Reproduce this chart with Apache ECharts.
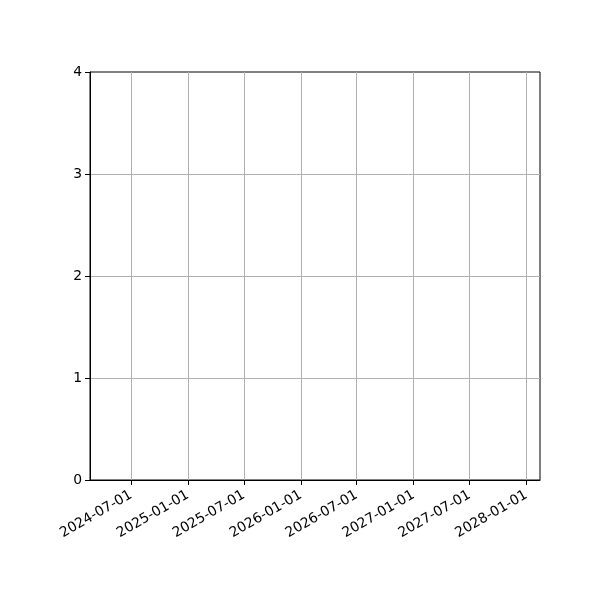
<!DOCTYPE html>
<html>
<head>
<meta charset="utf-8">
<title>chart</title>
<script src="https://cdn.jsdelivr.net/npm/echarts@6/dist/echarts.min.js"></script>
<style>
  html, body { margin: 0; padding: 0; background: #fff; }
  #chart { width: 600px; height: 600px; }
</style>
</head>
<body>
<div id="chart"></div>
<script>
// x axis range and tick dates (the plot itself has no data)
const xRange = ['2024-02-19', '2028-02-14'];
const tickDates = ['2024-07-01', '2025-01-01', '2025-07-01', '2026-01-01',
                   '2026-07-01', '2027-01-01', '2027-07-01', '2028-01-01'];
const yTicks = [0, 1, 2, 3, 4];
const seriesData = [];

const chart = echarts.init(document.getElementById('chart'), null, { renderer: 'canvas' });

// dates as UTC timestamps on a plain value axis
const toTime = s => Date.parse(s + 'T00:00:00Z');
const pad = n => (n < 10 ? '0' : '') + n;
const fmtDate = v => {
    const d = new Date(v);
    return d.getUTCFullYear() + '-' + pad(d.getUTCMonth() + 1) + '-' + pad(d.getUTCDate());
};

chart.setOption({
    animation: false,
    backgroundColor: '#ffffff',
    textStyle: { fontFamily: 'DejaVu Sans' },
    grid: { left: 90, right: 60, top: 72, bottom: 120, show: true, borderColor: '#000', borderWidth: 1 },
    xAxis: {
        type: 'value',
        min: toTime(xRange[0]),
        max: toTime(xRange[1]),
        axisLine: { show: true, onZero: false, lineStyle: { color: '#000', width: 1 } },
        axisTick: {
            show: true, length: 5, inside: false,
            lineStyle: { color: '#000' },
            customValues: tickDates.map(toTime)
        },
        axisLabel: {
            customValues: tickDates.map(toTime),
            rotate: 30,
            margin: 14,
            color: '#000',
            fontSize: 13.9,
            fontFamily: 'DejaVu Sans',
            formatter: fmtDate
        },
        splitLine: { show: true, lineStyle: { color: '#b0b0b0', width: 1 } }
    },
    yAxis: {
        type: 'value',
        min: yTicks[0],
        max: yTicks[yTicks.length - 1],
        interval: 1,
        axisLine: { show: true, lineStyle: { color: '#000', width: 1 } },
        axisTick: { show: true, length: 5, lineStyle: { color: '#000' } },
        axisLabel: { color: '#000', fontSize: 13.9, margin: 8, fontFamily: 'DejaVu Sans' },
        splitLine: { show: true, showMinLine: false, showMaxLine: false, lineStyle: { color: '#b0b0b0', width: 1 } }
    },
    series: [{
        type: 'line',
        data: seriesData,
        showSymbol: false
    }]
});
</script>
</body>
</html>
